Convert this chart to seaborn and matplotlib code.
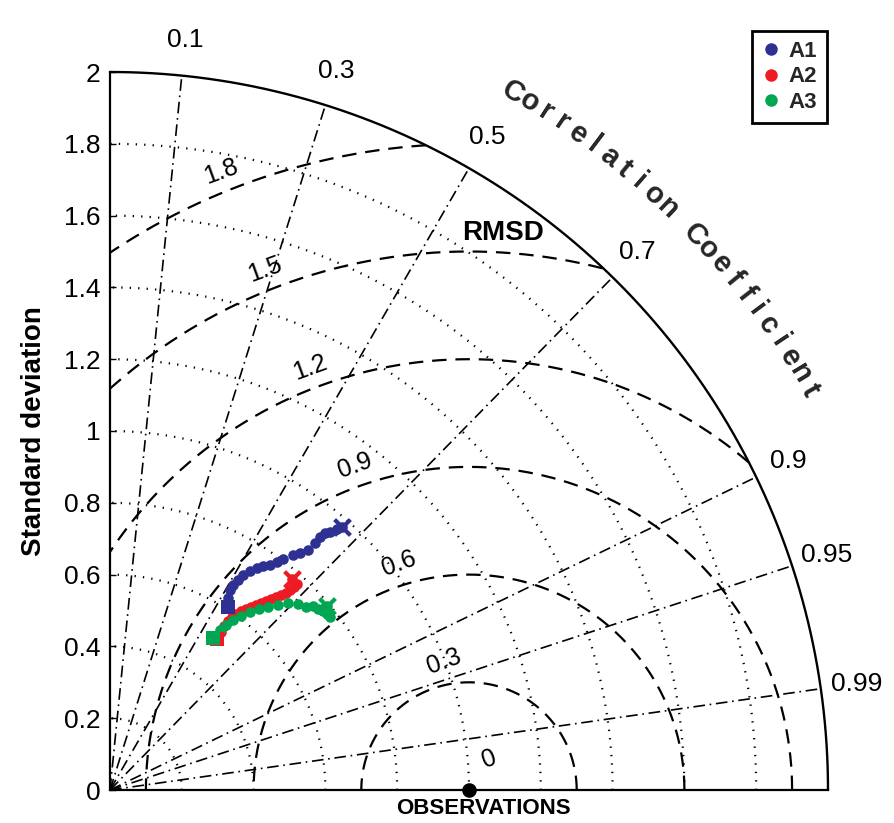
import numpy as np
import pandas as pd
import matplotlib
matplotlib.use("Agg")
import matplotlib.pyplot as plt
from matplotlib.lines import Line2D
import seaborn as sns

# Normalised standard deviation and correlation of each model run
a1_std = [0.608, 0.628, 0.650, 0.666, 0.686, 0.705, 0.725, 0.741, 0.756, 0.769,
          0.787, 0.804, 0.830, 0.845, 0.867, 0.894, 0.917, 0.933, 0.945, 0.962, 0.977]
a1_corr = [0.542, 0.525, 0.515, 0.516, 0.521, 0.527, 0.538, 0.552, 0.565, 0.580,
           0.591, 0.601, 0.615, 0.626, 0.637, 0.639, 0.638, 0.642, 0.648, 0.656, 0.661]

a2_std = [0.516, 0.538, 0.556, 0.574, 0.590, 0.603, 0.618, 0.631, 0.644, 0.656,
          0.670, 0.683, 0.696, 0.709, 0.723, 0.736, 0.750, 0.763, 0.775, 0.776]
a2_corr = [0.578, 0.575, 0.571, 0.573, 0.576, 0.582, 0.591, 0.601, 0.610, 0.620,
           0.628, 0.637, 0.645, 0.652, 0.659, 0.666, 0.669, 0.672, 0.672, 0.653]

a3_std = [0.512, 0.541, 0.562, 0.585, 0.607, 0.631, 0.653, 0.673, 0.696, 0.719,
          0.737, 0.747, 0.763, 0.768, 0.775, 0.778, 0.780, 0.783, 0.793]
a3_corr = [0.561, 0.567, 0.575, 0.586, 0.601, 0.618, 0.636, 0.654, 0.672, 0.690,
           0.711, 0.731, 0.741, 0.754, 0.766, 0.777, 0.786, 0.762, 0.763]

series_names = ["A1", "A2", "A3"]
series_colors = {"A1": "#2E3192", "A2": "#ED1C24", "A3": "#00A651"}

ref_std = 1.0
std_ticks = [0, 0.2, 0.4, 0.6, 0.8, 1.0, 1.2, 1.4, 1.6, 1.8, 2.0]
std_tick_labels = ["0", "0.2", "0.4", "0.6", "0.8", "1", "1.2", "1.4", "1.6", "1.8", "2"]
std_grid = [0.2, 0.4, 0.6, 0.8, 1.0, 1.2, 1.4, 1.6, 1.8]
corr_ticks = [0.1, 0.3, 0.5, 0.7, 0.9, 0.95, 0.99]
corr_tick_labels = ["0.1", "0.3", "0.5", "0.7", "0.9", "0.95", "0.99"]
rmsd_levels = [0.3, 0.6, 0.9, 1.2, 1.5, 1.8]
rmsd_label_levels = [0.0, 0.3, 0.6, 0.9, 1.2, 1.5, 1.8]
rmsd_labels = ["0", "0.3", "0.6", "0.9", "1.2", "1.5", "1.8"]

sns.set_theme(style="white")
plt.rcParams["font.family"] = ["Liberation Sans", "DejaVu Sans"]

R_MAX = 2.0
fig = plt.figure(figsize=(8.95, 8.23), dpi=100)
ax = fig.add_axes([110 / 895, 33 / 823, 718 / 895, 718 / 823])
ax.set_xlim(0, R_MAX)
ax.set_ylim(0, R_MAX)

for side in ("top", "right"):
    ax.spines[side].set_visible(False)
for side in ("left", "bottom"):
    ax.spines[side].set_linewidth(1.6)
    ax.spines[side].set_color("black")

# standard deviation arcs (dotted)
th = np.linspace(0, np.pi / 2, 400)
for r in std_grid:
    ax.plot(r * np.cos(th), r * np.sin(th), color="black", lw=1.6,
            ls=(0, (0.6, 3.2)), zorder=1)
ax.plot(R_MAX * np.cos(th), R_MAX * np.sin(th), color="black", lw=1.7,
        clip_on=False, zorder=3)

# correlation rays (dash-dot) and their labels
for c, lab in zip(corr_ticks, corr_tick_labels):
    a = np.arccos(c)
    ax.plot([0, R_MAX * np.cos(a)], [0, R_MAX * np.sin(a)], color="black",
            lw=1.2, ls=(0, (7, 2.8, 1, 2.8)), zorder=1)
    ax.text(2.1 * np.cos(a), 2.1 * np.sin(a), lab, ha="center", va="center",
            fontsize=19, color="black", clip_on=False)

# centred RMS difference circles (dashed)
t = np.linspace(0, np.pi, 1200)
for r in rmsd_levels:
    x = ref_std + r * np.cos(t)
    y = r * np.sin(t)
    out = (x < 0) | (x ** 2 + y ** 2 > R_MAX ** 2)
    x = np.where(out, np.nan, x)
    y = np.where(out, np.nan, y)
    ax.plot(x, y, color="black", lw=1.6, ls=(0, (6.5, 4.0)), zorder=1)

lab_ang = np.deg2rad(114.5)
for r, lab in zip(rmsd_label_levels, rmsd_labels):
    ax.text(ref_std + r * np.cos(lab_ang) + 0.055, r * np.sin(lab_ang) + 0.085, lab,
            ha="center", va="center", rotation=20, fontsize=18, color="black")

ax.text(1.095, 1.552, "RMSD", ha="center", va="center", fontsize=20,
        fontweight="bold", color="black")

# curved axis title along the outer arc
title = "Correlation Coefficient"
angles = np.linspace(60.0, 29.7, len(title))
for ch, ang in zip(title, angles):
    if ch == " ":
        continue
    ar = np.deg2rad(ang)
    ax.text(2.245 * np.cos(ar), 2.245 * np.sin(ar), ch, rotation=ang - 90,
            ha="center", va="center", fontsize=21, fontweight="bold",
            rotation_mode="anchor", clip_on=False)

# model trajectories
frames = []
for name, s, c in zip(series_names, [a1_std, a2_std, a3_std], [a1_corr, a2_corr, a3_corr]):
    s = np.asarray(s)
    c = np.asarray(c)
    frames.append(pd.DataFrame({"model": name, "x": s * c, "y": s * np.sqrt(1 - c ** 2)}))
df = pd.concat(frames, ignore_index=True)

for name in series_names:
    sub = df[df["model"] == name]
    col = series_colors[name]
    sns.scatterplot(data=sub, x="x", y="y", color=col, s=58, linewidth=0,
                    legend=False, ax=ax, zorder=4)
    ax.scatter(sub["x"].iloc[0], sub["y"].iloc[0], marker="s", s=110, color=col,
               linewidth=0, zorder=5)
    ax.scatter(sub["x"].iloc[-1], sub["y"].iloc[-1], marker="x", s=130, color=col,
               linewidths=3.0, zorder=5)

# reference point
ax.scatter([ref_std], [0], s=90, color="black", zorder=6, clip_on=False)
ax.text(1.04, -0.022, "OBSERVATIONS", ha="center", va="top", fontsize=16,
        fontweight="bold", color="black")

ax.set_xticks([])
ax.set_yticks(std_ticks)
ax.set_yticklabels(std_tick_labels)
ax.tick_params(axis="y", direction="in", length=4, width=1, labelsize=19, pad=7,
               colors="black", left=True)
ax.set_xlabel("")
ax.set_ylabel("Standard deviation", fontsize=20, fontweight="bold", labelpad=12,
              color="black")

handles = [Line2D([], [], marker="o", ls="", color=series_colors[n], markersize=8,
                  label=n) for n in series_names]
leg = fig.legend(handles=handles, loc="upper right",
                 bbox_to_anchor=(827 / 895, 1 - 31 / 823), frameon=True,
                 fancybox=False, edgecolor="black", framealpha=1,
                 prop={"weight": "bold", "size": 16}, handlelength=0.8,
                 handletextpad=0.4, borderpad=0.45, labelspacing=0.2,
                 borderaxespad=0)
leg.get_frame().set_linewidth(2.0)

fig.savefig("out.png", dpi=100, facecolor="white")
